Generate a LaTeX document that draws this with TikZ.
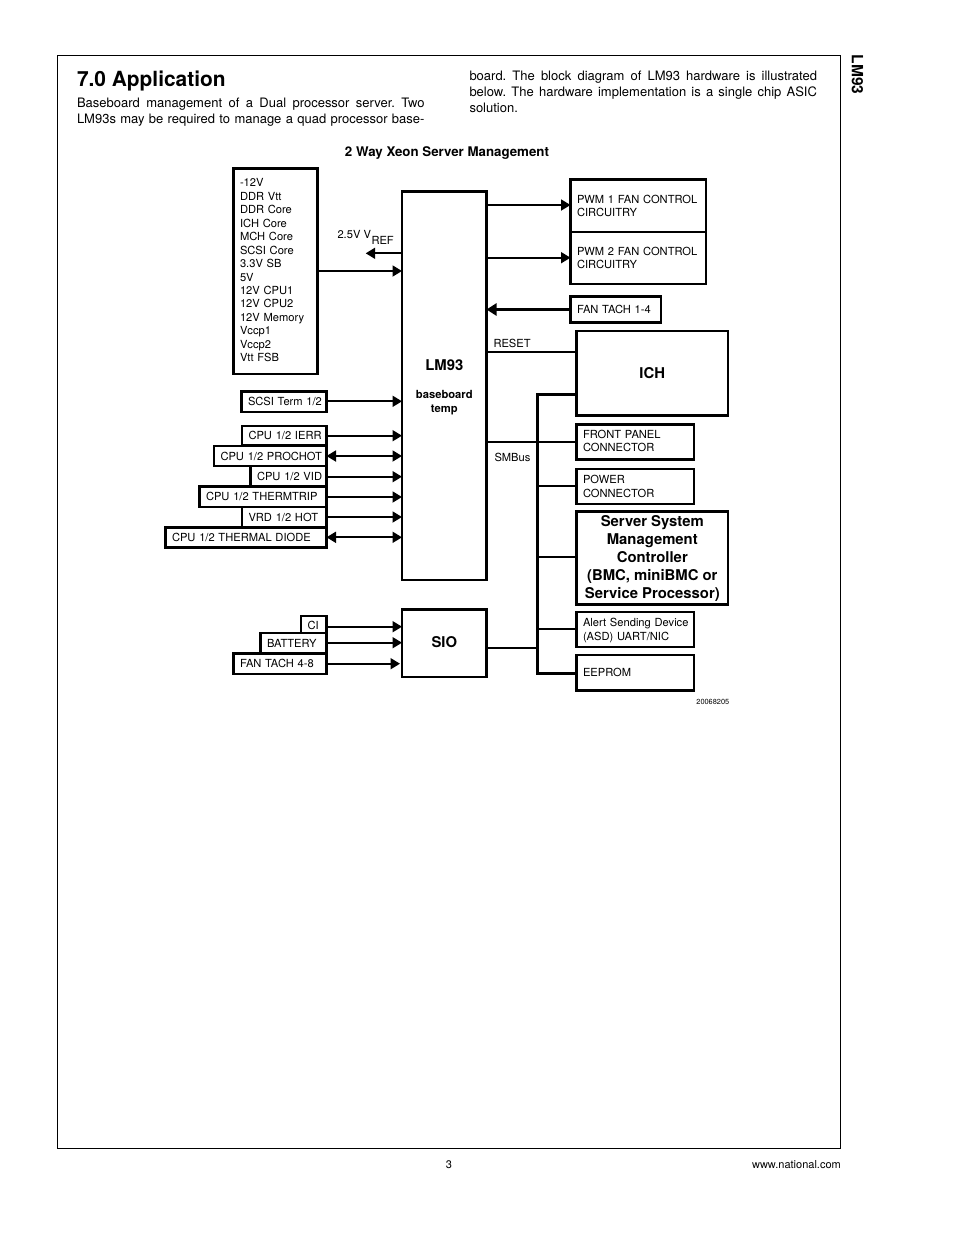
\documentclass[tikz,border=0pt]{standalone}
\usepackage{fontspec}
\setmainfont{TeX Gyre Heros}
\usetikzlibrary{arrows.meta}
\frenchspacing
\tikzset{
  bx/.style={draw=black,line width=2.4pt,fill=white,inner sep=0pt,outer sep=0pt,font=\fontsize{11.15pt}{13.45pt}\selectfont,align=left},
  lab/.style={inner sep=0pt,outer sep=0pt,font=\fontsize{11.15pt}{13.45pt}\selectfont},
  bl/.style={inner sep=0pt,outer sep=0pt,font=\fontsize{14.85pt}{18pt}\selectfont\bfseries,align=center},
  para/.style={inner sep=0pt,outer sep=0pt,anchor=north west,font=\fontsize{13pt}{16pt}\selectfont,align=left},
  wire/.style={draw=black,line width=1.8pt},
  bus/.style={draw=black,line width=2.4pt},
  ar/.style={wire,-{Triangle[length=9.5pt,width=11pt]}},
  arb/.style={wire,{Triangle[length=9.5pt,width=11pt]}-{Triangle[length=9.5pt,width=11pt]}},
}
% #1 name, #2 x1, #3 y1, #4 x2, #5 y2, #6 text
\newcommand\bxx[6]{%
  \pgfmathsetmacro\bxw{#4-#2}\pgfmathsetmacro\bxh{#5-#3}%
  \pgfmathsetmacro\bxcx{(#2+#4)/2}\pgfmathsetmacro\bxcy{(#3+#5)/2}%
  \pgfmathsetmacro\bxt{#4-#2-13}%
  \node[bx,minimum width=\bxw pt,minimum height=\bxh pt,text width=\bxt pt,inner xsep=6.5pt] (#1) at (\bxcx,\bxcy) {#6};%
}
\newcommand\wireto[4][ar]{\draw[#1] (#2.east |- 0,#4) -- (#3.west |- 0,#4);}
\newcommand\lin[1]{\mbox{#1}}
\newcommand\dn[1]{\raisebox{-1pt}[\height][\depth]{#1}}
\newcommand\upb{\rule[-2pt]{0pt}{1pt}}
\newcommand\just[1]{\makebox[347.5pt][s]{#1}}
\begin{document}
\begin{tikzpicture}[x=1pt,y=-1pt]
\useasboundingbox (0,0) rectangle (954,1235);
\node[draw=black,line width=0.9pt,minimum width=783.5pt,minimum height=1093pt,inner sep=0pt,outer sep=0pt] (frame) at (448.75,601.75) {};
\node[para,anchor=base west,font=\fontsize{20.9pt}{24pt}\selectfont\bfseries] (head) at (77,86.5) {7.0 Application};
\node[para] (p1) at (77,98) {\just{Baseboard management of a Dual processor server. Two}\\\just{LM93s may be required to manage a quad processor base-}};
\node[para] (p2) at (469.5,71) {\just{board. The block diagram of LM93 hardware is illustrated}\\\just{below. The hardware implementation is a single chip ASIC}\\solution.};
\node[inner sep=0pt,font=\fontsize{15.5pt}{16pt}\selectfont\bfseries,rotate=-90] (side) at (857.5,74.5) {LM93};
\node[inner sep=0pt,font=\fontsize{13.3pt}{15pt}\selectfont\bfseries] (title) at (447,153) {2 Way Xeon Server Management};
\node[inner sep=0pt,font=\fontsize{11pt}{13pt}\selectfont] (pg) at (449,1165) {3};
\node[inner sep=0pt,anchor=east,font=\fontsize{11pt}{13pt}\selectfont] (web) at (841,1164.5) {www.national.com};
\node[inner sep=0pt,anchor=east,font=\fontsize{7.4pt}{10pt}\selectfont] (fig) at (729.5,702) {20068205};

% left column
\bxx{volts}{233.5}{168.5}{317.5}{374}{-12V\\DDR Vtt\\DDR Core\\ICH Core\\MCH Core\\SCSI Core\\3.3V SB\\5V\\12V CPU1\\12V CPU2\\12V Memory\\Vccp1\\Vccp2\\Vtt FSB\upb}
\bxx{scsi}{241.5}{391.5}{326.5}{412}{\lin{SCSI Term 1/2}}
\bxx{ierr}{242}{426}{326.5}{445}{\lin{CPU 1/2 IERR}}
\bxx{vid}{250.5}{466}{326.5}{486}{\lin{CPU 1/2 VID}}
\bxx{hot}{242}{507}{326.5}{527}{\lin{VRD 1/2 HOT}}
\bxx{prochot}{214}{446}{326.5}{466}{\lin{CPU 1/2 PROCHOT}}
\bxx{trip}{199.5}{486.5}{326.5}{507}{\lin{CPU 1/2 THERMTRIP}}
\bxx{diode}{165.5}{527.5}{326.5}{547.5}{\lin{CPU 1/2 THERMAL DIODE}}
\bxx{ci}{301}{616}{326.5}{633}{\dn{\lin{CI}}}
\bxx{batt}{260.5}{633}{326.5}{653}{\lin{BATTERY}}
\bxx{tach}{233.5}{653.5}{326.5}{674}{\lin{FAN TACH 4-8}}
% centre
\bxx{lm}{402}{191.5}{486.5}{580}{}
\bxx{sio}{402}{609.5}{486.5}{677}{}
\node[bl] (lmt) at (444.3,365.5) {LM93};
\node[bl,font=\fontsize{11.2pt}{14pt}\selectfont\bfseries] (lmb) at (444.3,403) {baseboard\\temp};
\node[bl] (siot) at (444.3,642.5) {SIO};
% right
\bxx{pwma}{570.5}{179.5}{706}{232}{\lin{PWM 1 FAN CONTROL}\\CIRCUITRY}
\bxx{pwmb}{570.5}{232}{706}{284}{\lin{PWM 2 FAN CONTROL}\\CIRCUITRY}
\bxx{ft}{570.5}{296.5}{661}{322.5}{\lin{FAN TACH 1-4}}
\bxx{ich}{576.5}{331}{728}{415.5}{}
\node[bl] (icht) at (652.3,373) {ICH};
\bxx{fp}{576.5}{424.5}{694}{459.5}{FRONT PANEL\\CONNECTOR\upb}
\bxx{pow}{576.5}{468.8}{694}{504}{POWER\\CONNECTOR}
\node[draw=black,line width=2.4pt,fill=white,inner sep=0pt,outer sep=0pt,minimum width=151.5pt,minimum height=93pt] (ssm) at (652.3,558) {};
\node[bl] (ssmt) at (652.3,558.5) {Server System\\Management\\Controller\\(BMC, miniBMC or\\Service Processor)};
\bxx{asd}{576.5}{612}{694}{647.2}{\dn{\lin{Alert Sending Device}}\\\dn{(ASD) UART/NIC}}
\bxx{ee}{576.5}{655.2}{694}{690.5}{EEPROM}

% connectors
\wireto{volts}{lm}{271}
\wireto{scsi}{lm}{401.3}
\wireto{ierr}{lm}{435.7}
\wireto[arb]{prochot}{lm}{456}
\wireto{vid}{lm}{476.7}
\wireto{trip}{lm}{497}
\wireto{hot}{lm}{517}
\wireto[arb]{diode}{lm}{537.3}
\wireto{ci}{sio}{626.7}
\wireto{batt}{sio}{642.7}
\draw[ar,shorten >=2pt] (tach.east |- 0,663.7) -- (sio.west |- 0,663.7);
\coordinate (vr) at (365.7,253.3);
\draw[ar] (lm.west |- vr) -- (vr);
\node[lab,anchor=base west] (vl) at (337.5,238) {2.5V V};
\node[lab,anchor=base west] (vs) at (371.5,244) {REF};
\wireto{lm}{pwma}{205}
\wireto{lm}{pwmb}{257.7}
\draw[wire,line width=2.4pt,-{Triangle[length=10pt,width=12pt]}] (ft.west) -- (lm.east |- ft.west);
\wireto[wire]{lm}{ich}{352}
\node[lab,anchor=base west] (rst) at (493.5,347) {RESET};
\wireto[wire]{lm}{fp}{442}
\node[lab,anchor=base west] (smb) at (494.5,461) {SMBus};
\coordinate (bt) at (537.5,394.3);
\coordinate (bb) at (537.5,673.3);
\draw[bus,line join=miter] (ich.west |- bt) -- (bt) -- (bb) -- (ee.west |- bb);
\draw[wire] (bt |- 0,442) -- (fp.west |- 0,442);
\draw[bus] (bt |- 0,486) -- (pow.west |- 0,486);
\draw[wire] (bt |- 0,557.3) -- (ssm.west |- 0,557.3);
\draw[wire] (bt |- 0,629.3) -- (asd.west |- 0,629.3);
\draw[bus] (sio.east |- 0,647.7) -- (bt |- 0,647.7);
\end{tikzpicture}
\end{document}
